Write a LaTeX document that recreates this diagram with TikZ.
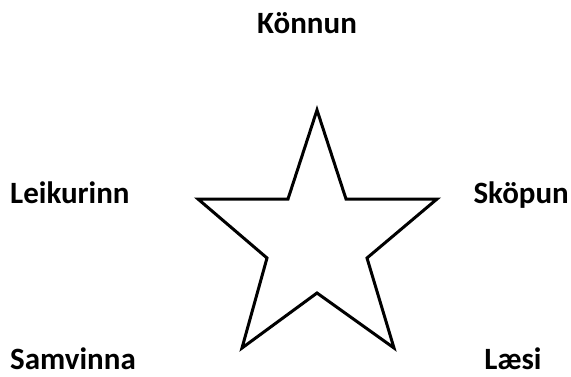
\documentclass[tikz,border=0pt]{standalone}
\usepackage{fontspec}
\setmainfont{Carlito}
\begin{document}
\begin{tikzpicture}[x=1pt,y=-1pt,
  lbl/.style={font=\bfseries\fontsize{31}{36}\selectfont, inner sep=0pt},
  starline/.style={draw=black, line width=3pt, line join=miter}]
\useasboundingbox (0,0) rectangle (571,376);
\coordinate (p1) at (317,110);
\coordinate (p2) at (346,199);
\coordinate (p3) at (437,199);
\coordinate (p4) at (367,258);
\coordinate (p5) at (394,348);
\coordinate (p6) at (317,293);
\coordinate (p7) at (242,348);
\coordinate (p8) at (267,258);
\coordinate (p9) at (198,199);
\coordinate (p10) at (288,199);
\draw[starline] (p1) -- (p2) -- (p3) -- (p4) -- (p5) -- (p6) -- (p7) -- (p8) -- (p9) -- (p10) -- cycle;
\node[lbl, anchor=base] (konnun) at (307,33) {Könnun};
\node[lbl, anchor=base west] (leik) at (10,203) {Leikurinn};
\node[lbl, anchor=base east] (skop) at (569,203) {Sköpun};
\node[lbl, anchor=base west] (samv) at (10,369) {Samvinna};
\node[lbl, anchor=base] (laesi) at (513,369) {Læsi};
\end{tikzpicture}
\end{document}
